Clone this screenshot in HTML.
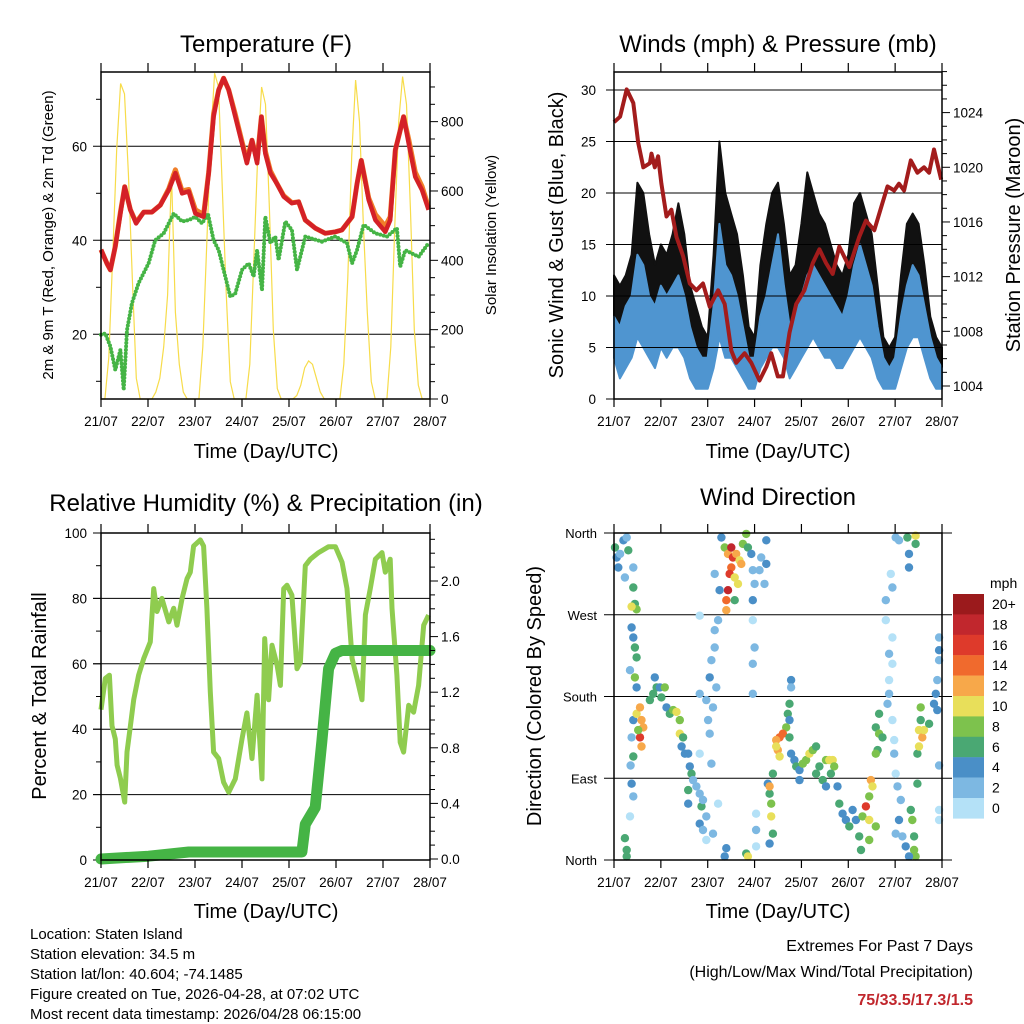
<!DOCTYPE html>
<html><head><meta charset="utf-8">
<style>
html,body{margin:0;padding:0;background:#fff;}
svg{display:block;font-family:"Liberation Sans",sans-serif;}
</style></head>
<body>
<svg id="fig" xmlns="http://www.w3.org/2000/svg" width="1024" height="1024" viewBox="0 0 1024 1024">
<rect x="0" y="0" width="1024" height="1024" fill="#fff"/>
<text x="266" y="52" font-size="24" text-anchor="middle">Temperature (F)</text>
<text x="778" y="52" font-size="24" text-anchor="middle">Winds (mph) &amp; Pressure (mb)</text>
<text x="266" y="511" font-size="24" text-anchor="middle">Relative Humidity (%) &amp; Precipitation (in)</text>
<text x="778" y="505" font-size="24" text-anchor="middle">Wind Direction</text>
<text transform="translate(53,235) rotate(-90)" font-size="15" text-anchor="middle">2m &amp; 9m T (Red, Orange) &amp; 2m Td (Green)</text>
<text transform="translate(496,235) rotate(-90)" font-size="15" text-anchor="middle">Solar Insolation (Yellow)</text>
<text transform="translate(563,235) rotate(-90)" font-size="20" text-anchor="middle">Sonic Wind &amp; Gust (Blue, Black)</text>
<text transform="translate(1020,235) rotate(-90)" font-size="20" text-anchor="middle">Station Pressure (Maroon)</text>
<text transform="translate(46,696) rotate(-90)" font-size="20" text-anchor="middle">Percent &amp; Total Rainfall</text>
<text transform="translate(541,696) rotate(-90)" font-size="20" text-anchor="middle">Direction (Colored By Speed)</text>
<text x="266" y="458" font-size="20" text-anchor="middle">Time (Day/UTC)</text>
<text x="778" y="458" font-size="20" text-anchor="middle">Time (Day/UTC)</text>
<text x="266" y="918" font-size="20" text-anchor="middle">Time (Day/UTC)</text>
<text x="778" y="918" font-size="20" text-anchor="middle">Time (Day/UTC)</text>
<g font-size="15">
<text x="30" y="939">Location: Staten Island</text>
<text x="30" y="959">Station elevation: 34.5 m</text>
<text x="30" y="979">Station lat/lon: 40.604; -74.1485</text>
<text x="30" y="999">Figure created on Tue, 2026-04-28, at 07:02 UTC</text>
<text x="30" y="1019">Most recent data timestamp: 2026/04/28 06:15:00</text>
</g>
<text x="973" y="951" font-size="16" text-anchor="end">Extremes For Past 7 Days</text>
<text x="973" y="977" font-size="16" text-anchor="end">(High/Low/Max Wind/Total Precipitation)</text>
<text x="973" y="1005" font-size="16" font-weight="bold" fill="#c1272d" text-anchor="end">75/33.5/17.3/1.5</text>
<g id="plots"></g>
</svg>
<script>
// ---------- data ----------
const dayLabels = ["21/07","22/07","23/07","24/07","25/07","26/07","27/07","28/07"];
const tempHours = [0,3.1,4.8,7.3,9.9,12.1,15,17.9,21.8,26,30.3,34.6,38,41.4,44.8,48.2,52.4,55,57.5,60.1,62.6,65.2,68.6,72,74.5,77.1,79.7,81.9,83.9,86.5,89.9,93.3,97.5,100.9,104.3,109.4,114.5,119.7,123,128.2,130.7,132.9,136.7,140.1,145.2,147.7,150.3,154.5,157.1,160.5,163.9,167.3];
const temp2m = [38,35,33.7,38.7,45.7,51.4,46.5,43.6,46,46,47.5,50.7,54.3,50,50.4,45.7,45,54.3,66.3,72,74.5,72,66.3,60.6,56.4,61.3,56.4,66.3,58.5,54.3,52,49.3,47.9,48.2,44.3,42.6,41.5,41.8,42.2,45,52,57,48.6,44.3,41.8,44.3,59.2,66.3,60.6,53.5,50.7,46.5];
const temp9m = [38,35,33.7,38.7,46,51.4,46.5,43.8,46,46,47.5,51,55,50.5,50.8,46.5,45.5,54.5,67,72,74.5,72,66.8,61,57,61.3,57,66.3,59,54.8,52,49.5,48,48.2,44.3,42.6,41.5,41.8,42.2,45,52,57,49,45.5,43,45,59.2,66.3,61.5,54.5,51.5,47];
const dewHours = [0,2.2,4.8,7.3,9.9,11.6,13.3,15.8,19.2,24.3,27.7,32,37.1,41.4,44.8,48.2,51.6,54.6,57.5,60.1,62.6,66,68.6,72,75.4,77.9,79.7,82.2,83.9,86.5,89,90.7,94.1,97.5,100.1,104.3,112.8,119.7,125.6,128.2,130.7,134.1,140.1,146.1,151.1,152.8,155.4,158.8,162.2,167.3];
const dewPoint = [19.9,20.2,17.4,12.4,16.7,8.2,20.9,26.6,30.9,35.1,40,41.5,45.7,44,44.3,45,43.6,45.7,40,37.9,33.7,28,28.7,33.7,35.1,32.3,37.9,29.4,45,39.4,40.8,35.8,44,42.2,33.7,40.8,39.7,40.8,39.4,35.1,37.9,43.3,41.5,40.8,42.6,34.4,37.9,37.2,36.5,39.4];
const solar = [0,0,120,420,720,910,880,650,350,60,0,0,
 0,0,20,60,150,300,650,250,100,20,0,0,
 0,0,150,450,750,940,900,600,300,50,0,0,
 0,0,100,400,700,900,850,550,200,30,0,0,
 0,0,10,40,90,110,100,60,20,0,0,0,
 0,0,100,350,700,920,800,500,250,50,0,0,
 0,0,150,500,800,930,850,550,200,40,0,0, 0];
const windLo = [4,2,3,4,6,5,4,3, 5,4,5,5,4,2,1,1, 1,3,6,4,4,3,2,1, 1,3,4,5,5,4,2,3, 4,5,6,5,4,4,3,3, 4,5,6,5,4,2,1,1, 1,3,5,6,6,4,2,1, 1];
const windHi = [8,7,9,10,14,13,10,9, 11,10,11,12,10,7,5,4, 4,9,17,13,12,10,7,4, 4,8,10,13,16,11,7,8, 10,12,13,12,11,10,9,8, 10,13,15,13,11,7,4,3, 4,8,11,13,12,9,6,4, 3];
const gustLo = [7,5,6,7,10,9,8,6, 8,8,9,10,8,5,3,3, 3,6,10,8,8,6,4,2, 2,6,8,10,10,8,4,6, 8,10,11,9,8,7,6,5, 7,9,10,9,8,4,3,2, 2,5,9,10,9,7,4,3, 2];
const gustHi = [12,11,12,14,21,20,16,13, 15,14,16,19,16,11,9,7, 6,14,25,20,18,16,12,7, 6,13,17,20,21,17,12,13, 17,22,20,18,17,15,13,12, 14,19,20,18,16,11,6,5, 6,12,17,18,17,13,8,6, 5];
const presHours = [0,3.1,6.5,9.9,12.4,15,18.4,19.2,20.9,22.6,24.3,26.9,29.4,32,35.4,38.8,42.2,45.6,49,53.3,56.7,60.1,62.6,66.9,70.3,74.5,78,80.5,83.9,86.5,89.9,93.3,97.5,101.8,105.2,108.6,112,115.4,120.5,125.6,129,133.3,137.5,140.1,143.5,146,148.6,152,155.4,158.8,161.4,163.9,167.6];
const pressure = [1023.3,1023.7,1025.7,1024.7,1021.8,1020,1020.3,1021,1020,1020.8,1018.8,1016.4,1016.9,1014.9,1013.5,1011.5,1011,1011.5,1009.8,1011,1010,1006.6,1005.7,1006.4,1005.7,1004.4,1005.4,1006.4,1004.7,1004.7,1007.9,1010,1011,1013,1014,1013,1012.2,1014.2,1012.7,1014.9,1016.1,1015.4,1017.4,1018.6,1018.3,1018.8,1018.3,1020.5,1019.6,1020,1019.6,1021.3,1019.1];
const rhHours = [0,2.2,4.3,5.6,7.3,8.2,9.9,12.1,13.3,15,16.7,19.2,21.8,25.2,26.9,28.6,31.1,34.6,37.1,38.8,41.4,43.9,45.6,47.3,50.7,52.4,54.1,55.8,57.5,60.1,62.6,65.2,68.6,72,74.5,77.1,79.7,82.2,83.6,85.6,87.3,89.9,91.6,93.3,95,97.5,100.1,101.8,104.3,106.9,111.1,116.2,119.7,123.1,125.6,128.2,130.7,133.3,135,137.5,140.1,143.5,145.2,147.7,148.6,151.1,152.8,154.5,157.1,159.6,162.2,164.8,167.3];
const rh = [46,55.5,56.5,41,37,29,25,17.7,33,41,49,56.5,61.6,66.7,83,76,80,72.8,77,71.8,80,86,88,96,97.9,96,77,51.4,33,31,23.8,20.7,24.8,37,45,31,50.4,24.8,67.7,49,65.7,59.5,53.4,83,84,81,58.5,60.5,90,92,94,95.8,95.8,91,83,61.6,55.5,49,75,83,92,94,88,92,77,56.5,36,33,47.3,45.2,53.4,71.8,74.9];
const precipHours = [0,24.3,44.8,102.6,104.3,109.4,112.8,116.2,119.7,123,168];
const precip = [0,0.02,0.05,0.05,0.25,0.37,0.85,1.37,1.48,1.5,1.5];
const dirHours = [0.5,1.4,2.2,3.1,4.8,5.6,6.5,7.3,9.9,9.9,10.7,11.6,9,9,9.9,10.7,11.6,8.2,10.7,11.6,9.9,11.6,13.3,14.1,15,13.3,14.1,12.4,9,9.9,8.5,9,9.9,8.2,5.6,6.5,6.5,18.4,20.1,21.8,20.9,24.3,23.5,26,26.9,28.6,30.3,32,33.7,33.7,35.4,34.6,36.3,38,38.8,39.7,40.5,38,38,42.2,43.9,44.8,45.6,43.9,45.6,47.3,
43.9,53.3,51.6,51.6,49.9,49,43.9,47.3,50.7,52.4,48.2,49,43.9,49.9,53.3,50.7,47.3,
55,56.7,58.4,60.1,60.9,62.6,64.3,60.1,59.2,61.8,58.4,57.5,61.8,63.5,65.2,66,67.7,68.6,70.3,71.1,72,74.5,75.4,78,78,77.1,71.1,57.5,54.1,51.6,57.5,56.7,67.7,68.6,
71.1,72,71.1,71.1,72.8,72.8,72.8,78.8,80.5,80.5,81.4,79.7,81.4,79.7,79.7,
90.7,90.7,89.9,89,89.9,88.2,86.5,84.8,83.1,83.9,84.8,83.1,89.9,90.7,92.4,93.3,95,95,96.7,98.4,100.1,101.8,103.5,105.2,106.9,108.6,110.3,112,112.8,111.1,108.6,103.5,
114.5,115.4,117.1,118.8,120.5,122.2,123.9,125.6,127.3,129,130.7,130.7,131.6,132.4,134.1,130.7,126.5,
134.1,135.8,137.5,135,134.1,135.8,140.1,140.9,140.9,140.9,142.6,139.2,139.2,142.6,141.8,142.6,142.6,143.5,143.5,144.3,
144.3,146,150.3,154.5,154.5,151.1,151.1,145.2,146.9,146,144.3,147.7,149.4,152,152.8,153.7,153.7,154.5,151.1,156.2,157.9,158.8,157.1,161.4,157.1,155.4,155.4,156.2,163.9,164.8,165.6,166.5,166.5,166.5,165.6,166.5,166.5,166.5];
const dirDeg = [344,333,322,337,352,311,355,341,322,300,282,276,279,256,245,234,223,209,201,190,154,161,168,154,146,135,125,143,135,114,104,84,70,48,24,11,4,176,183,190,201,179,190,190,168,161,165,163,154,139,135,125,117,117,103,95,88,77,62,81,73,59,66,40,33,48,
269,264,253,234,220,201,183,176,168,190,154,139,117,106,62,29,22,
355,344,337,344,333,337,330,322,315,311,297,286,286,304,326,348,359,344,337,319,304,319,333,326,352,304,286,275,297,315,13,4,7,4,
264,234,216,183,51,33,15,84,62,48,29,18,95,73,81,
198,190,172,161,154,146,139,135,132,121,114,125,135,117,110,103,99,88,106,110,117,121,125,103,88,110,110,110,103,95,81,95,
81,62,51,44,37,55,44,26,48,59,44,70,88,81,37,22,11,
146,139,135,121,117,161,172,183,198,227,245,264,286,300,315,216,154,132,117,95,
355,352,355,357,348,337,322,81,66,44,29,26,15,55,44,26,11,4,4,143,135,143,154,150,168,117,84,125,172,183,198,220,245,231,165,104,55,44];
const dirSpeed = [6,4,4,3,5,2,3,6,3,6,7,8,10,4,5,7,7,3,8,4,4,10,12,13,13,16,12,8,3,6,2,4,3,1,6,7,6,6,7,6,4,6,5,9,5,7,8,10,9,11,6,5,4,5,4,6,3,6,4,2,3,6,2,4,2,3,
1,2,3,2,3,4,3,3,2,3,2,2,1,2,1,2,1,
5,8,13,18,16,12,10,15,17,11,18,14,6,11,12,9,9,6,4,3,2,3,3,5,4,3,4,13,4,3,5,4,7,10,
1,2,3,3,1,2,1,4,9,10,7,5,7,6,12,
4,3,7,6,5,8,15,14,13,12,10,11,6,4,4,6,5,5,8,9,10,8,7,6,7,8,11,10,9,6,5,7,
5,6,5,5,6,5,4,7,8,16,10,9,12,10,9,8,7,
7,8,7,6,8,6,3,2,1,2,1,1,3,2,1,1,1,1,2,1,
3,2,6,10,7,4,4,3,2,4,2,3,5,7,8,7,9,8,4,11,12,10,6,7,8,7,6,11,4,4,3,3,2,4,4,2,1,1];
const speedLabels = ["20+","18","16","14","12","10","8","6","4","2","0"];
const speedColors = ["#9b1a1c","#c1272d","#de3a2b","#f06a2d","#f7a84a","#e8df5a","#7dc24d","#4aa873","#4a8fc7","#7db8e2","#b4e1f7"];

// ---------- helpers ----------
const NS = "http://www.w3.org/2000/svg";
const root = document.getElementById("plots");
function mk(tag, attrs, parent){
  const e = document.createElementNS(NS, tag);
  for (const k in attrs) e.setAttribute(k, attrs[k]);
  (parent || root).appendChild(e);
  return e;
}
function scaleX(x0, x1){ return h => x0 + h / 168 * (x1 - x0); }
function pathFrom(xs, ys, fx, fy){
  let d = "";
  for (let i = 0; i < xs.length; i++) d += (i ? "L" : "M") + fx(xs[i]).toFixed(1) + "," + fy(ys[i]).toFixed(1);
  return d;
}
function frame(x0, y0, x1, y1, name){
  const r = mk("rect", {x:x0, y:y0, width:x1-x0, height:y1-y0, fill:"none", stroke:"#000", "stroke-width":1.5});
  
  
}
function hline(x0, x1, y, name, w){
  const l = mk("line", {x1:x0, x2:x1, y1:y, y2:y, stroke:"#000", "stroke-width":w || 1});
  
  
}
function label(x, y, txt, anchor, size, name){
  const t = mk("text", {x:x, y:y, "text-anchor":anchor, "font-size":size});
  t.textContent = txt;
  
  
}
function timeAxis(x0, x1, y0, y1, prefix){
  const fx = scaleX(x0, x1);
  for (let i = 0; i < dayLabels.length; i++){
    const x = fx(i * 24);
    const t1 = mk("line", {x1:x, x2:x, y1:y1, y2:y1+8, stroke:"#000", "stroke-width":1.2});
    
    
    const t2 = mk("line", {x1:x, x2:x, y1:y0-9, y2:y0, stroke:"#000", "stroke-width":1.2});
    
    
    label(x, y1 + 27, dayLabels[i], "middle", 13.5, prefix + '-x-tick-label');
  }
}
function rightTicks(x, y0, y1, step, fy, lo, hi, majorEvery, fmt, prefix){
  const n = Math.round((hi - lo) / step);
  for (let i = 0; i <= n; i++){
    const v = lo + i * step;
    const y = fy(v);
    if (y < y0 - 0.5 || y > y1 + 0.5) continue;
    const major = i % majorEvery === 0;
    const t = mk("line", {x1:x, x2:x + (major ? 8 : 5), y1:y, y2:y, stroke:"#000", "stroke-width":1});
    
    
    if (major) label(x + 11, y + 5, fmt(v), "start", 13.5, prefix + '-right-tick-label');
  }
}

// ---------- Panel 1: temperature ----------
(function(){
  const x0=101, x1=430, y0=72, y1=399;
  const fx = scaleX(x0, x1);
  const fT = t => 240.3 - (t - 40) * 4.7;
  const fS = s => 399 - s * 0.3467;
  [20,40,60].forEach(v => { hline(x0-8, x1, fT(v), 'temperature-gridline'); label(87, fT(v)+5, String(v), "end", 13.5, 'temperature-y-tick-label'); });
  [10,30,50,70].forEach(v => { hline(x0-5, x0, fT(v), 'temperature-minor-tick'); });
  const solarHours = solar.map((_, i) => i * 2);
  const ps = mk("path", {d:pathFrom(solarHours, solar, fx, fS), fill:"none", stroke:"#f7dc4a", "stroke-width":1.2});
  
  
  const pd = mk("path", {d:pathFrom(dewHours, dewPoint, fx, fT), fill:"none", stroke:"#45b445", "stroke-width":4, "stroke-dasharray":"0 3.5", "stroke-linecap":"round"});
  
  
  const p9 = mk("path", {d:pathFrom(tempHours, temp9m, fx, fT), fill:"none", stroke:"#f07f2a", "stroke-width":5, "stroke-linejoin":"round"});
  
  
  const p2 = mk("path", {d:pathFrom(tempHours, temp2m, fx, fT), fill:"none", stroke:"#d42127", "stroke-width":4.5, "stroke-linejoin":"round"});
  
  
  frame(x0, y0, x1, y1, 'temperature-plot-frame');
  timeAxis(x0, x1, y0, y1, 'temperature');
  rightTicks(x1, y0, y1, 50, fS, 0, 900, 4, v => String(v), 'solar');
})();

// ---------- Panel 2: winds & pressure ----------
(function(){
  const x0=614, x1=942, y0=72, y1=399;
  const fx = scaleX(x0, x1);
  const fW = m => 399 - m * 10.3;
  const fP = p => 386 - (p - 1004) * 13.67;
  const hrs = windLo.map((_, i) => i * 3);
  function band(lo, hi, fill, name){
    let d = pathFrom(hrs, hi, fx, fW);
    for (let i = lo.length - 1; i >= 0; i--) d += "L" + fx(hrs[i]).toFixed(1) + "," + fW(lo[i]).toFixed(1);
    const p = mk("path", {d:d + "Z", fill:fill, stroke:fill, "stroke-width":2, "stroke-linejoin":"round"});
    
    
  }
  band(gustLo, gustHi, "#111", 'gust-scatter-band');
  band(windLo, windHi, "#4f95d0", 'wind-speed-band');
  for (let v = 0; v <= 30; v += 5){ hline(x0-8, x1, fW(v), 'wind-gridline'); label(596, fW(v)+5, String(v), "end", 13.5, 'wind-y-tick-label'); }
  const pp = mk("path", {d:pathFrom(presHours, pressure, fx, fP), fill:"none", stroke:"#a31c1c", "stroke-width":4, "stroke-linejoin":"round"});
  
  
  frame(x0, y0, x1, y1, 'winds-plot-frame');
  timeAxis(x0, x1, y0, y1, 'winds');
  rightTicks(x1, y0, y1, 1, fP, 1000, 1028, 4, v => String(v), 'pressure');
})();

// ---------- Panel 3: humidity & precipitation ----------
(function(){
  const x0=101, x1=430, y0=533, y1=860;
  const fx = scaleX(x0, x1);
  const fR = r => 860 - r * 3.27;
  const fPr = p => 859 - p * 139;
  [20,40,60,80].forEach(v => hline(x0-8, x1, fR(v), 'humidity-gridline'));
  [0,20,40,60,80,100].forEach(v => { hline(x0-8, x0, fR(v), 'humidity-major-tick'); label(87, fR(v)+5, String(v), "end", 13.5, 'humidity-y-tick-label'); });
  [10,30,50,70,90].forEach(v => hline(x0-5, x0, fR(v), 'humidity-minor-tick'));
  const pr = mk("path", {d:pathFrom(rhHours, rh, fx, fR), fill:"none", stroke:"#8fcc4f", "stroke-width":5, "stroke-linejoin":"round"});
  
  
  const pp = mk("path", {d:pathFrom(precipHours, precip, fx, fPr), fill:"none", stroke:"#45b445", "stroke-width":11, "stroke-linecap":"round", "stroke-linejoin":"round"});
  
  
  frame(x0, y0, x1, y1, 'humidity-plot-frame');
  timeAxis(x0, x1, y0, y1, 'humidity');
  rightTicks(x1, y0, y1, 0.1, fPr, 0, 2.3, 4, v => v.toFixed(1), 'precip');
})();

// ---------- Panel 4: wind direction ----------
(function(){
  const x0=614, x1=942, y0=533, y1=860;
  const fx = scaleX(x0, x1);
  const fD = d => 860 - d / 360 * 327;
  const names = ["North","East","South","West","North"];
  for (let i = 0; i < 5; i++){
    const y = fD(i * 90);
    hline(x0-10, x1+10, y, 'direction-gridline');
    label(597, y+5, names[i], "end", 13, 'direction-y-tick-label');
  }
  for (let i = 0; i < dirHours.length; i++){
    const bin = Math.min(10, Math.floor(dirSpeed[i] / 2));
    const c = mk("circle", {cx:fx(dirHours[i]).toFixed(1), cy:fD(dirDeg[i]).toFixed(1), r:4.2, fill:speedColors[10 - bin]});
    
    
  }
  frame(x0, y0, x1, y1, 'direction-plot-frame');
  timeAxis(x0, x1, y0, y1, 'direction');
  label(990, 588, "mph", "start", 14, 'colorbar-title');
  for (let i = 0; i < speedColors.length; i++){
    const y = 594 + i * 20.4;
    const r = mk("rect", {x:953, y:y, width:31, height:20.6, fill:speedColors[i]});
    
    
    label(992, y + 15, speedLabels[i], "start", 14, 'colorbar-label');
  }
})();
</script>
</body></html>
